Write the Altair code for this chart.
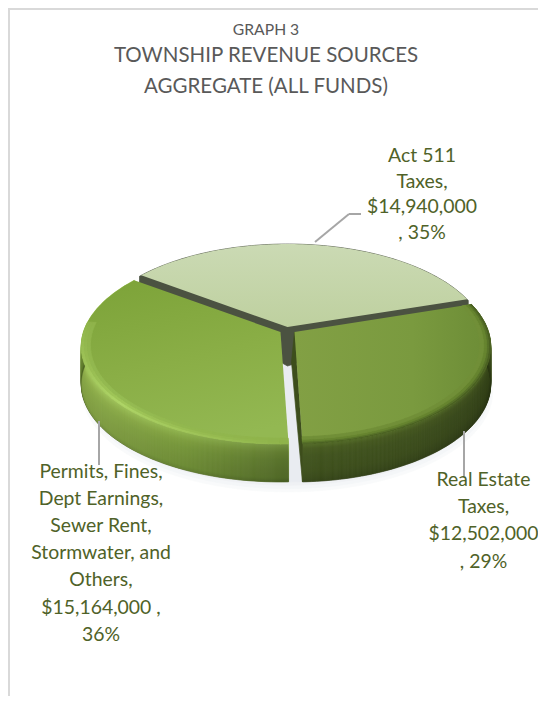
import math
import altair as alt

# ---- values
categories = ["Real Estate Taxes", "Permits", "Act 511 Taxes"]
amounts = [12502000, 15164000, 14940000]
percents = [29, 36, 35]
title_lines = ["TOWNSHIP REVENUE SOURCES", "AGGREGATE (ALL FUNDS)"]
label_act = ["Act 511", "Taxes,", "$14,940,000", ", 35%"]
label_real = ["Real Estate", "Taxes,", "$12,502,000", ", 29%"]
label_permits = ["Permits, Fines,", "Dept Earnings,", "Sewer Rent,", "Stormwater, and", "Others,", "$15,164,000 ,", "36%"]

# ---- tilted-disc geometry (page pixels)
HX, HY, A, B, K = 287.5, 328.0, 197.0, 95.3, 0.1487
DEPTH = 38.0
OFFSET = {"real": (7.0, 4.0, 0.985), "permits": (-7.0, 4.0), "act": (0.0, -1.0)}

total = sum(amounts)
f_real, f_permits, f_act = [a / total for a in amounts]
th_bottom = -88.0
th_real_end = th_bottom + 360 * f_real             # Real Estate runs counter-clockwise from the bottom
th_permits_end = th_bottom - 360 * f_permits        # Permits runs clockwise from the bottom
ANG = {
    "real": (th_bottom, th_real_end),
    "permits": (th_permits_end, th_bottom),
    "act": (th_real_end, th_permits_end + 360),
}


def pt(theta, r=1.0, off=(0, 0), drop=0.0):
    u = r * math.cos(math.radians(theta))
    v = r * math.sin(math.radians(theta))
    w = 1 + K * v
    xs = off[2] if len(off) > 2 else 1.0
    return [HX + A * xs * u / w + off[0], HY - B * v / w + off[1] + drop]


def arc(a0, a1, r=1.0, off=(0, 0), drop=0.0, n=90):
    return [pt(a0 + (a1 - a0) * i / n, r, off, drop) for i in range(n + 1)]


def feature(ring, **props):
    ring = ring + [ring[0]]
    return {"type": "Feature", "properties": props,
            "geometry": {"type": "Polygon", "coordinates": [ring]}}


def wedge(name, r=1.0, drop=0.0):
    a0, a1 = ANG[name]
    off = OFFSET[name]
    return [pt(0, 0, off, drop)] + arc(a0, a1, r, off, drop)


def rim_band(name, d0, d1):
    a0, a1 = ANG[name]
    off = OFFSET[name]
    return arc(a0, a1, 1.0, off, d0) + arc(a1, a0, 1.0, off, d1)


def ellipse_ring(dx, dy, r):
    return [[x + dx, y + dy] for x, y in arc(0, 360, r, n=120)[:-1]]


def rgb(h):
    return [int(h[i:i + 2], 16) for i in (1, 3, 5)]


def mix(c0, c1, t):
    a, b = rgb(c0), rgb(c1)
    return "#%02x%02x%02x" % tuple(round(a[i] + (b[i] - a[i]) * t) for i in range(3))


def ramp(stops, x):
    for (x0, c0), (x1, c1) in zip(stops, stops[1:]):
        if x <= x1:
            return mix(c0, c1, (x - x0) / (x1 - x0) if x1 > x0 else 0)
    return stops[-1][1]


PROJ = alt.Projection(type="identity", scale=1, translate=[-8, -8])


def solid(features):
    return (alt.Chart(alt.Data(values=features))
            .mark_geoshape(strokeWidth=0.7)
            .encode(fill=alt.Color("properties.c:N", scale=None),
                    stroke=alt.Color("properties.c:N", scale=None))
            .project(**PROJ.to_dict()))


def grad(ring, stops, x1=0, y1=0, x2=1, y2=0, opacity=1.0):
    return (alt.Chart(alt.Data(values=[feature(ring)]))
            .mark_geoshape(
                strokeWidth=0, opacity=opacity,
                fill=alt.LinearGradient(
                    gradient="linear", x1=x1, y1=y1, x2=x2, y2=y2,
                    stops=[alt.GradientStop(offset=o, color=c) for o, c in stops]))
            .project(**PROJ.to_dict()))


def text(lines, x, y, size, color, line_height):
    return (alt.Chart(alt.Data(values=[{"t": 1}]))
            .mark_text(font="Lato", fontSize=size, color=color, align="center",
                       baseline="middle", lineHeight=line_height, text=lines)
            .encode(x=alt.value(x - 8), y=alt.value(y - 8)))


def rule(x0, y0, x1, y1, color="#a6a6a6", w=2.0):
    return (alt.Chart(alt.Data(values=[{"t": 1}]))
            .mark_rule(color=color, strokeWidth=w)
            .encode(x=alt.value(x0 - 8), y=alt.value(y0 - 8),
                    x2=alt.value(x1 - 8), y2=alt.value(y1 - 8)))


layers = []

# frame
layers += [rule(8, 9, 546, 9, "#d9d9d9", 2), rule(9, 8, 9, 704, "#d9d9d9", 2)]

# soft shadow beneath the disc
shadow = []
for dy, r, col in [(48, 1.03, "#f9fafb"), (46, 1.02, "#f4f6f8"), (44, 1.01, "#eff1f4"), (42, 1.0, "#e9ecf1")]:
    shadow.append(feature(ellipse_ring(0, dy, r), c=col))
layers.append(solid(shadow))

# dark walls of the Act 511 slice, visible through the gaps
off_a = OFFSET["act"]
a0_a, a1_a = ANG["act"]
act_walls = (arc(a0_a - 0.8, a1_a + 0.8, 1.0, off_a)
             + [pt(a1_a + 0.8, 1.0, off_a, 7)] + [pt(0, 0, off_a, DEPTH + 1)]
             + [pt(a0_a - 0.8, 1.0, off_a, 7)])
layers.append(solid([feature(act_walls, c="#4b5241")]))

# rims: 1 px bands running from the face edge downward
rim_permits = [(0, "#a9cf62"), (4, "#93b850"), (9, "#7f9f3f"), (16, "#6f8f36"),
               (28, "#647f30"), (34, "#5f7c2c"), (38, "#4a6122")]
rim_real = [(0, "#5a752b"), (5, "#46591f"), (12, "#3d4f1c"),
            (28, "#374719"), (34, "#303f16"), (38, "#2a3713")]
features = []
for name, stops in [("permits", rim_permits), ("real", rim_real)]:
    for d in range(int(DEPTH)):
        features.append(feature(rim_band(name, d, d + 1), c=ramp(stops, d + 0.5)))

# dark cut wall of the Real Estate slice along the gap
off_r = OFFSET["real"]
hub_r = pt(0, 0, off_r)
cut = [hub_r, pt(ANG["real"][0], 1.0, off_r), pt(ANG["real"][0], 1.0, off_r, DEPTH),
       [hub_r[0] - 3.0, hub_r[1] + 30]]
features.append(feature(cut, c="#3d4e1c"))
layers.append(solid(features))

# horizontal tint over the rims
layers.append(grad(rim_band("permits", 0, 38), [(0, "#a3c25a"), (0.5, "#7a9a3d"), (1, "#3f5220")], opacity=0.5))
layers.append(grad(rim_band("real", 0, 38), [(0, "#4a5f22"), (0.6, "#3c4d1c"), (1, "#222c0f")], opacity=0.35))

# faces
layers.append(grad(wedge("act"), [(0, "#cbdab4"), (1, "#bed09f")], x1=0, y1=0, x2=0, y2=1))
layers.append(grad(wedge("permits"), [(0, "#7ea43a"), (0.5, "#8aae46"), (1, "#93b852")], x1=0.3, y1=0, x2=0.6, y2=1))
layers.append(grad(wedge("real"), [(0, "#82a044"), (0.6, "#7a9a3f"), (1, "#6c8c36")]))

STEP = 3.0
bev = []

# bevel along the Permits edge: strongest on its lower left, fading towards the gap and the back
off_p = OFFSET["permits"]
a_start, a_end = ANG["permits"]
a = a_start
while a < a_end - 1e-6:
    b = min(a + STEP + 0.3, a_end)
    t = (a + STEP / 2 - a_start) / (a_end - a_start)
    strength = max(0.0, 1 - abs(t - 0.62) / 0.38)
    if strength > 0:
        for r0, r1, col in [(0.985, 1.0, "#aed466"), (0.97, 0.985, "#a0c659"), (0.955, 0.97, "#95bb52")]:
            base = "#8fb34b"
            bev.append(feature(arc(a, b, r0, off_p, n=3) + arc(b, a, r1, off_p, n=3),
                               c=mix(base, col, strength)))
    a += STEP

# darkening along the Real Estate edge
a_start, a_end = ANG["real"]
a = a_start
while a < a_end - 1e-6:
    b = min(a + STEP + 0.3, a_end)
    for r0, r1, col in [(0.99, 1.0, "#4a6022"), (0.98, 0.99, "#587229"), (0.965, 0.98, "#66842f"), (0.945, 0.965, "#718f38")]:
        bev.append(feature(arc(a, b, r0, off_r, n=3) + arc(b, a, r1, off_r, n=3), c=col))
    a += STEP
layers.append(solid(bev))

# leader lines
layers += [
    rule(315, 242, 349, 214), rule(349, 214, 361, 214),
    rule(99, 421, 99, 465), rule(464, 431, 464, 476),
]

# text
GREEN = "#4f6228"
GREY = "#595959"
layers += [
    text(["GRAPH 3"], 266, 30, 15.7, GREY, 20),
    text(title_lines, 266, 56, 20.5, GREY, 31),
    text(label_act, 422, 156, 19.4, GREEN, 25.7),
    text(label_real, 483.5, 479.5, 19.4, GREEN, 27.4),
    text(label_permits, 101, 471.6, 19.4, GREEN, 27.2),
]

chart = (alt.layer(*layers)
         .properties(width=530, height=688, padding=0, background="#ffffff",
                     autosize=alt.AutoSizeParams(type="none"))
         .configure_view(stroke=None))

chart.save("out.html", embed_options={"renderer": "svg", "actions": False})
